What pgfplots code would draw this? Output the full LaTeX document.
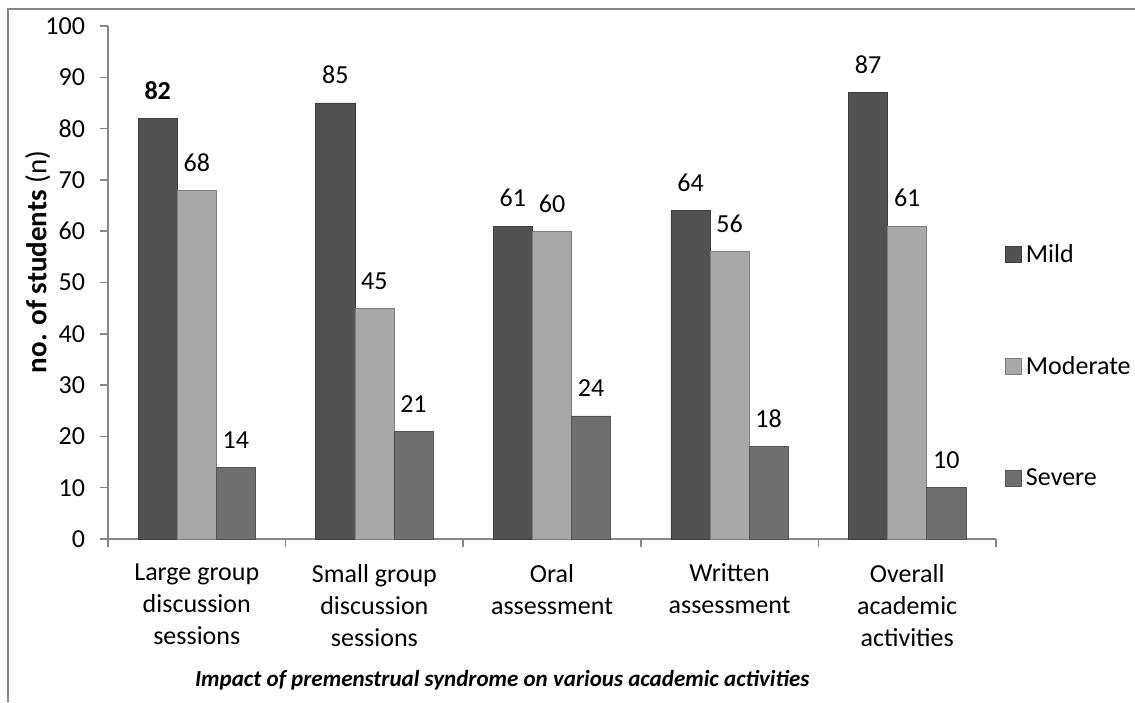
\documentclass[border=0pt]{standalone}
\usepackage{pgfplots}
\pgfplotsset{compat=1.18}
\usepackage{fontspec}
\setmainfont{Carlito}
\definecolor{mild}{HTML}{525252}
\definecolor{moderate}{HTML}{A8A8A8}
\definecolor{severe}{HTML}{6F6F6F}
\definecolor{axisgray}{HTML}{878787}
\begin{document}
\begin{tikzpicture}
\path[use as bounding box] (-54pt,-81.5pt) rectangle (513.5pt,269.5pt);
\draw[axisgray, line width=1pt] (-50pt,-81.5pt) -- (-50pt,265pt) -- (513.5pt,265pt);
\begin{axis}[
  at={(0pt,0pt)}, anchor=south west,
  scale only axis, width=444pt, height=256.5pt,
  xmin=-0.5, xmax=4.5, ymin=0, ymax=100,
  ybar=0pt, bar width=0.22,
  axis x line*=bottom, axis y line*=left,
  axis line style={axisgray, line width=0.75pt, -},
  tick align=outside, major tick length=4pt, minor tick length=4pt,
  tick style={axisgray, line width=0.75pt},
  xtick={0,1,2,3,4},
  xticklabels={Large group\\discussion\\sessions, Small group\\discussion\\sessions, Oral\\assessment, Written\\assessment, Overall\\academic\\activities},
  xticklabel style={align=center, font=\fontsize{13}{16}\selectfont, anchor=north, yshift=-5pt},
  minor xtick={-0.5,0.5,1.5,2.5,3.5,4.5},
  major x tick style={draw=none},
  ytick={0,10,...,100},
  yticklabel style={font=\fontsize{13}{16}\selectfont, xshift=-4pt},
  /pgf/number format/assume math mode=true,
  ylabel={\textbf{no. of students} (n)},
  ylabel style={at={(axis description cs:-0.079,0.54)}, anchor=center, font=\fontsize{14.5}{17}\selectfont},
  legend style={at={(1,0.337)}, anchor=west, xshift=4.5pt, draw=none, fill=none, font=\fontsize{13}{16}\selectfont, row sep=41.5pt, inner sep=0pt},
  legend cell align=left,
  legend image code/.code={\fill[#1] (0pt,-4pt) rectangle (8pt,4pt);},
  nodes near coords, point meta=explicit symbolic,
  nodes near coords style={font=\fontsize{13}{16}\selectfont, anchor=south, yshift=6pt, black},
]
\addplot[fill=mild, draw=mild!75!black, line width=0.3pt] coordinates {(0,82) [\textbf{82}] (1,85) [85] (2,61) [61] (3,64) [64] (4,87) [87]};
\addplot[fill=moderate, draw=moderate!75!black, line width=0.3pt] coordinates {(0,68) [68] (1,45) [45] (2,60) [60] (3,56) [56] (4,61) [61]};
\addplot[fill=severe, draw=severe!75!black, line width=0.3pt] coordinates {(0,14) [14] (1,21) [21] (2,24) [24] (3,18) [18] (4,10) [10]};
\legend{Mild, Moderate, Severe}
\end{axis}
\node[anchor=base west, font=\fontsize{11.5}{14}\selectfont\bfseries\itshape] at (40pt,-73.5pt) {Impact of premenstrual syndrome on various academic activities};
\end{tikzpicture}
\end{document}
